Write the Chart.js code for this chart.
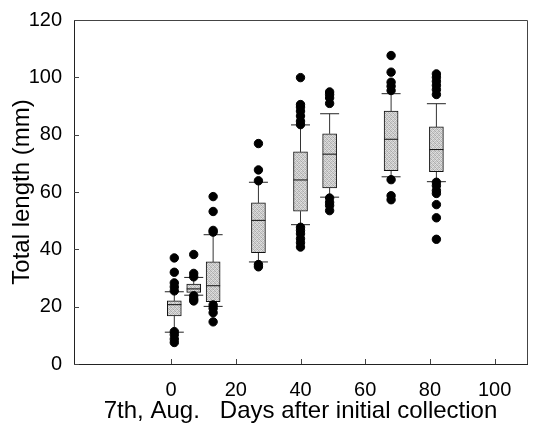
<!DOCTYPE html>
<html>
<head>
<meta charset="utf-8">
<script src="https://cdn.jsdelivr.net/npm/chart.js@4"></script>
<style>
  html, body { margin: 0; padding: 0; background: #fff; }
  #wrap { width: 547px; height: 430px; }
</style>
</head>
<body>
<div id="wrap"><canvas id="grafico" width="547" height="430"></canvas></div>
<script>
// days after initial collection (7th Aug.)
const days = [1, 7, 13, 27, 40, 49, 68, 82];
const q1 = [16.8, 25.0, 21.7, 38.8, 53.3, 61.4, 67.4, 67.1];
const median = [20.7, 26.2, 27.3, 50.1, 64.2, 73.2, 78.4, 74.8];
const q3 = [22.0, 27.9, 35.6, 56.2, 74.0, 80.3, 88.2, 82.7];
const whiskerLow = [11.1, 24.0, 20.1, 35.6, 48.6, 58.2, 65.3, 63.6];
const whiskerHigh = [25.2, 30.2, 45.1, 63.4, 83.4, 87.3, 94.3, 90.8];
const outliers = [
  [37, 32, 28.3, 26.9, 25.5, 11.3, 10.2, 8.7, 7.5],
  [38.2, 31.6, 30.4, 23.8, 22.7, 22],
  [58.4, 53.2, 46.6, 46, 20.6, 19.4, 17.9, 14.7],
  [76.9, 67.7, 63.9, 34.7, 33.9],
  [99.9, 90.5, 89.6, 88.2, 86.5, 84.7, 83.5, 47.7, 46.6, 45.4, 43.7, 42.3, 40.8],
  [94.9, 94, 92.8, 90.9, 57.9, 56.4, 55.3, 53.5],
  [107.6, 101.8, 98.3, 96.9, 95.4, 64.3, 58.7, 57.3],
  [101.2, 100, 98.6, 97.2, 95.7, 94, 63.4, 62.2, 60.5, 59.5, 55.6, 51, 43.5]
];
const xTicks = [0, 20, 40, 60, 80, 100];
const yTicks = [0, 20, 40, 60, 80, 100, 120];

const fonte = "'Liberation Sans', Arial, sans-serif";

// stippled grey fill for the boxes
function texturaCinza() {
  const c = document.createElement('canvas');
  c.width = 4; c.height = 4;
  const g = c.getContext('2d');
  const tons = [
    '#b4b4b4', '#d8d8d8', '#c2c2c2', '#e2e2e2',
    '#d0d0d0', '#a8a8a8', '#dcdcdc', '#bcbcbc',
    '#c8c8c8', '#e4e4e4', '#b0b0b0', '#d4d4d4',
    '#dedede', '#bebebe', '#cccccc', '#acacac'
  ];
  for (let i = 0; i < 16; i++) {
    g.fillStyle = tons[i];
    g.fillRect(i % 4, Math.floor(i / 4), 1, 1);
  }
  return g.createPattern(c, 'repeat');
}

const caixas = days.map((d, i) => ({ x: d, y: [q1[i], q3[i]] }));
const medianas = days.map((d, i) => ({ x: d, y: median[i] }));
const tampas = [];
const bigodes = [];
days.forEach((d, i) => {
  tampas.push({ x: d, y: whiskerLow[i] }, { x: d, y: whiskerHigh[i] });
  bigodes.push({ x: d, y: whiskerLow[i] }, { x: d, y: q1[i] }, { x: d, y: null });
  bigodes.push({ x: d, y: q3[i] }, { x: d, y: whiskerHigh[i] }, { x: d, y: null });
});
const pontos = [];
days.forEach((d, i) => outliers[i].forEach(v => pontos.push({ x: d, y: v })));

// frame (top/right) and inward tick marks
const moldura = {
  id: 'moldura',
  afterDraw(chart) {
    const { ctx, chartArea: a, scales } = chart;
    ctx.save();
    ctx.strokeStyle = '#444';
    ctx.lineWidth = 1;
    ctx.beginPath();
    ctx.moveTo(a.left, a.top + 0.5);
    ctx.lineTo(a.right + 0.5, a.top + 0.5);
    ctx.lineTo(a.right + 0.5, a.bottom);
    xTicks.forEach(v => {
      const px = Math.round(scales.x.getPixelForValue(v)) + 0.5;
      ctx.moveTo(px, a.bottom);
      ctx.lineTo(px, a.bottom - 5);
    });
    yTicks.forEach(v => {
      const py = Math.round(scales.y.getPixelForValue(v)) + 0.5;
      ctx.moveTo(a.left, py);
      ctx.lineTo(a.left + 5, py);
    });
    ctx.stroke();
    ctx.restore();
  }
};

const ctx = document.getElementById('grafico').getContext('2d');
new Chart(ctx, {
  type: 'bar',
  data: {
    datasets: [
      {
        type: 'scatter',
        data: pontos,
        backgroundColor: '#000',
        borderColor: '#000',
        pointRadius: 4.2,
        order: 0
      },
      {
        type: 'scatter',
        data: medianas,
        pointStyle: 'line',
        pointRadius: 7,
        borderColor: '#111',
        borderWidth: 1,
        order: 1
      },
      {
        type: 'scatter',
        data: tampas,
        pointStyle: 'line',
        pointRadius: 9.5,
        borderColor: '#222',
        borderWidth: 1,
        order: 2
      },
      {
        type: 'bar',
        data: caixas,
        backgroundColor: texturaCinza(),
        borderColor: '#111',
        borderWidth: 1,
        borderSkipped: false,
        barThickness: 14,
        order: 3
      },
      {
        type: 'line',
        data: bigodes,
        borderColor: '#333',
        borderWidth: 1,
        pointRadius: 0,
        spanGaps: false,
        fill: false,
        order: 4
      }
    ]
  },
  options: {
    responsive: false,
    animation: false,
    events: [],
    layout: { padding: { top: 4, right: 20, left: 0, bottom: 0 } },
    plugins: {
      legend: { display: false },
      tooltip: { enabled: false }
    },
    scales: {
      x: {
        type: 'linear',
        min: -20,
        max: 100,
        afterFit: s => { s.height = 66; },
        afterBuildTicks: s => { s.ticks = [-20].concat(xTicks).map(v => ({ value: v })); },
        ticks: {
          padding: 14,
          color: '#000',
          font: { family: fonte, size: 20 },
          callback: v => (v < 0 ? '' : v),
          maxRotation: 0,
          autoSkip: false
        },
        grid: { display: false, drawTicks: false },
        border: { display: true, color: '#222', width: 1 },
        title: {
          display: true,
          text: '7th, Aug.   Days after initial collection',
          color: '#000',
          font: { family: fonte, size: 24 },
          padding: { top: 0, bottom: 4 }
        }
      },
      y: {
        type: 'linear',
        min: 0,
        max: 120,
        afterFit: s => { s.width = 74; },
        afterBuildTicks: s => { s.ticks = yTicks.map(v => ({ value: v })); },
        ticks: {
          padding: 12,
          color: '#000',
          font: { family: fonte, size: 20, lineHeight: 0.8 }
        },
        grid: { display: false, drawTicks: false },
        border: { display: true, color: '#222', width: 1 },
        title: {
          display: true,
          text: 'Total length (mm)',
          color: '#000',
          font: { family: fonte, size: 24 },
          padding: { top: 8, bottom: 0 }
        }
      }
    }
  },
  plugins: [moldura]
});
</script>
</body>
</html>
